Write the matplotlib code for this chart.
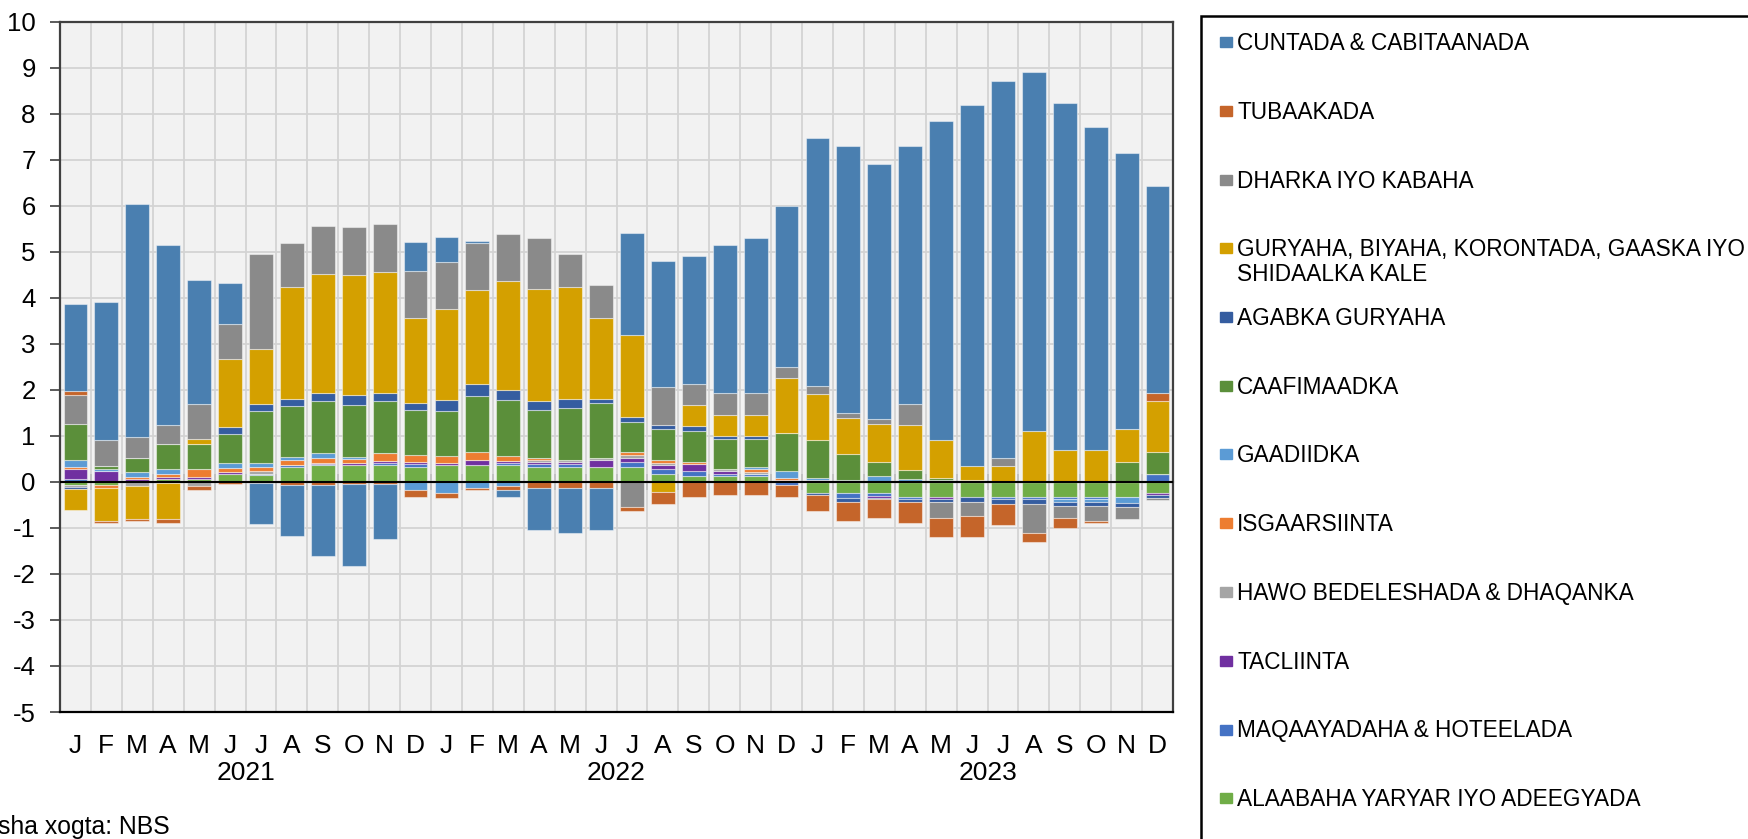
import numpy as np
import matplotlib
matplotlib.use("Agg")
import matplotlib.pyplot as plt
from matplotlib.patches import Rectangle

plt.rcParams['font.family'] = ['Liberation Sans', 'DejaVu Sans']
plt.rcParams['axes.unicode_minus'] = False

# bilaha iyo sanadaha
bilaha = ['J', 'F', 'M', 'A', 'M', 'J', 'J', 'A', 'S', 'O', 'N', 'D'] * 3
sanadaha = ['2021', '2022', '2023']

# qaybaha (ka qayb qaadashada sicir-bararka), Jan 2021 - Dec 2023
cuntada = [1.90, 3.01, 5.06, 3.91, 2.68, 0.88, -0.90, -1.10, -1.55, -1.78, -1.20, 0.62,
           0.56, 0.05, -0.15, -0.91, -0.97, -0.91, 2.21, 2.72, 2.77, 3.22, 3.37, 3.49,
           5.39, 5.80, 5.55, 5.60, 6.93, 7.85, 8.20, 7.80, 7.54, 7.03, 6.00, 4.50]
tubaakada = [0.09, -0.05, -0.05, -0.10, -0.09, -0.05, -0.02, -0.07, -0.07, -0.04, -0.05, -0.16,
             -0.09, -0.04, -0.10, -0.14, -0.14, -0.14, -0.09, -0.25, -0.33, -0.28, -0.28, -0.26,
             -0.36, -0.41, -0.41, -0.46, -0.41, -0.46, -0.46, -0.20, -0.21, -0.05, 0.0, 0.17]
dharka = [0.63, 0.56, 0.46, 0.41, 0.77, 0.76, 2.06, 0.97, 1.03, 1.03, 1.03, 1.03,
          1.02, 1.01, 1.02, 1.12, 0.72, 0.72, -0.55, 0.83, 0.46, 0.47, 0.47, 0.25,
          0.16, 0.11, 0.11, 0.46, -0.36, -0.31, 0.16, -0.63, -0.26, -0.31, -0.26, -0.05]
guryaha = [-0.47, -0.72, -0.71, -0.77, 0.10, 1.49, 1.19, 2.43, 2.58, 2.61, 2.63, 1.85,
           1.96, 2.06, 2.36, 2.43, 2.42, 1.75, 1.80, -0.22, 0.46, 0.47, 0.47, 1.19,
           1.02, 0.77, 0.82, 0.97, 0.83, 0.31, 0.33, 1.10, 0.69, 0.69, 0.72, 1.12]
agabka = [-0.04, 0.0, 0.0, 0.0, 0.0, 0.15, 0.15, 0.14, 0.19, 0.21, 0.19, 0.15,
          0.25, 0.25, 0.21, 0.20, 0.20, 0.10, 0.10, 0.10, 0.10, 0.05, 0.05, 0.0,
          -0.04, -0.09, -0.04, -0.05, -0.05, -0.10, -0.10, -0.10, -0.10, -0.10, -0.09, -0.05]
caafimaadka = [0.77, 0.06, 0.30, 0.56, 0.56, 0.62, 1.13, 1.12, 1.12, 1.13, 1.13, 0.98,
               0.98, 1.23, 1.23, 1.03, 1.13, 1.18, 0.66, 0.67, 0.67, 0.66, 0.62, 0.82,
               0.81, 0.56, 0.31, 0.19, 0.04, 0.0, 0.0, 0.0, 0.0, 0.0, 0.43, 0.47]
gaadiidka = [0.15, 0.06, 0.10, 0.10, 0.0, 0.11, 0.10, 0.06, 0.12, 0.05, 0.0, -0.17,
             -0.25, -0.14, -0.08, 0.0, 0.0, 0.0, 0.0, 0.0, 0.0, 0.0, 0.05, 0.16,
             0.05, 0.05, 0.12, 0.07, 0.05, 0.04, 0.02, 0.0, -0.05, -0.05, -0.12, 0.0]
isgaarsiinta = [0.04, -0.06, 0.04, 0.06, 0.16, 0.10, 0.09, 0.11, 0.09, 0.10, 0.16, 0.15,
                0.15, 0.16, 0.10, 0.05, 0.0, 0.0, 0.06, 0.05, 0.06, 0.0, 0.05, 0.04,
                0.04, 0.0, 0.0, 0.0, 0.0, 0.0, 0.0, 0.0, 0.0, 0.0, 0.0, 0.0]
hawo = [-0.04, 0.0, -0.09, -0.03, -0.09, 0.0, 0.05, 0.0, 0.0, 0.0, 0.0, 0.0,
        0.0, 0.0, 0.0, 0.05, 0.05, 0.05, 0.06, 0.05, 0.0, 0.05, 0.05, 0.04,
        0.0, 0.0, 0.0, 0.0, 0.0, 0.0, 0.0, 0.0, 0.0, 0.0, 0.0, 0.0]
tacliinta = [0.23, 0.23, 0.04, 0.04, 0.04, 0.04, 0.0, 0.0, 0.04, 0.04, 0.05, 0.04,
             0.04, 0.11, 0.05, 0.05, 0.05, 0.15, 0.09, 0.10, 0.14, 0.06, 0.0, 0.0,
             0.0, 0.0, -0.04, 0.0, -0.05, 0.0, 0.0, 0.0, 0.0, 0.0, 0.0, -0.04]
maqaayadaha = [0.06, 0.0, 0.03, 0.0, 0.0, 0.0, 0.04, 0.04, 0.02, 0.0, 0.04, 0.06,
               0.0, 0.0, 0.04, 0.05, 0.05, 0.0, 0.10, 0.10, 0.12, 0.05, 0.05, -0.07,
               0.0, -0.10, -0.06, -0.05, 0.0, 0.0, -0.05, -0.05, -0.05, -0.05, 0.0, 0.17]
alaabaha = [-0.07, -0.07, 0.0, 0.07, 0.07, 0.17, 0.14, 0.33, 0.36, 0.36, 0.37, 0.33,
            0.37, 0.37, 0.37, 0.33, 0.33, 0.33, 0.33, 0.17, 0.12, 0.12, 0.12, 0.0,
            -0.24, -0.24, -0.24, -0.33, -0.33, -0.33, -0.33, -0.33, -0.33, -0.33, -0.33, -0.25]

# taxanaha: hoos -> kor (sida Excel u isku dul dhigo)
taxane = [
    ("ALAABAHA YARYAR IYO ADEEGYADA", alaabaha, '#70AD47'),
    ("MAQAAYADAHA & HOTEELADA", maqaayadaha, '#4472C4'),
    ("TACLIINTA", tacliinta, '#7030A0'),
    ("HAWO BEDELESHADA & DHAQANKA", hawo, '#A5A5A5'),
    ("ISGAARSIINTA", isgaarsiinta, '#ED7D31'),
    ("GAADIIDKA", gaadiidka, '#5B9BD5'),
    ("CAAFIMAADKA", caafimaadka, '#5B8F3A'),
    ("AGABKA GURYAHA", agabka, '#355DA0'),
    ("GURYAHA, BIYAHA, KORONTADA, GAASKA IYO\nSHIDAALKA KALE", guryaha, '#D4A000'),
    ("DHARKA IYO KABAHA", dharka, '#8A8A8A'),
    ("TUBAAKADA", tubaakada, '#C5652A'),
    ("CUNTADA & CABITAANADA", cuntada, '#4A7FB0'),
]

W, H = 1748, 839
fig = plt.figure(figsize=(W / 100, H / 100), dpi=100)
ax = fig.add_axes([60 / W, 1 - 712 / H, (1173 - 60) / W, (712 - 21.7) / H])
ax.set_facecolor('#F2F2F2')

x = np.arange(len(bilaha))
pos = np.zeros(len(x))
neg = np.zeros(len(x))
for naam, qiime, midab in taxane:
    v = np.array(qiime)
    hoos = np.where(v >= 0, pos, neg)
    ax.bar(x, v, width=0.77, bottom=hoos, color=midab,
           edgecolor=(1, 1, 1, 0.45), linewidth=0.8, zorder=2)
    pos += np.where(v >= 0, v, 0)
    neg += np.where(v < 0, v, 0)

ax.set_xlim(-0.5, len(x) - 0.5)
ax.set_ylim(-5, 10)
ax.set_yticks(range(-5, 11))
ax.set_xticks(x)
ax.set_xticklabels(bilaha, fontsize=19)
ax.set_xticks(np.arange(0.5, len(x) - 1, 1), minor=True)
ax.tick_params(axis='x', which='both', length=0, pad=16)
ax.tick_params(axis='y', length=7, width=1.2, color='#404040', pad=10.5, labelsize=18.5)

ax.set_axisbelow(True)
ax.yaxis.grid(True, color='#D3D3D3', linewidth=1.3)
ax.xaxis.grid(True, which='minor', color='#D3D3D3', linewidth=1.3)

for s in ['left', 'top', 'right']:
    ax.spines[s].set_color('#404040')
    ax.spines[s].set_linewidth(1.6)
ax.spines['bottom'].set_color('black')
ax.spines['bottom'].set_linewidth(1.6)

# dhidibka eber (calaamadaha bilaha)
ax.axhline(0, color='black', linewidth=1.5, zorder=4)
sec = ax.secondary_xaxis(1 / 3)
sec.set_xticks(np.arange(0.5, len(x) - 1, 1))
sec.tick_params(direction='inout', length=12, width=1.2, color='black',
                labelbottom=False, labeltop=False)
for s in sec.spines.values():
    s.set_color('black')
    s.set_linewidth(1.5)

for i, sano in enumerate(sanadaha):
    ax.text(i * 12 + 5.5, -(773 - 712) / (712 - 21.7), sano, transform=ax.get_xaxis_transform(),
            ha='center', va='center', fontsize=19)

# sharaxaadda (legend)
fig.patches.append(Rectangle((1201 / W, -0.1), 1.0, 1.1 - 15.6 / H, transform=fig.transFigure,
                             fill=False, edgecolor='black', linewidth=1.8))
for i, (naam, qiime, midab) in enumerate(reversed(taxane)):
    y = 42 + i * 68.75
    fig.patches.append(Rectangle((1220 / W, 1 - (y + 5) / H), 12 / W, 10 / H,
                                 transform=fig.transFigure, color=midab))
    for k, sadar in enumerate(naam.split('\n')):
        fig.text(1237 / W, 1 - (y + 8 + k * 24.5) / H, sadar, fontsize=16.3,
                 va='baseline', ha='left')

fig.text(-2 / W, 1 - 827 / H, "sha xogta: NBS", fontsize=17.8, va='center', ha='left')

fig.savefig('out.png', dpi=100)
